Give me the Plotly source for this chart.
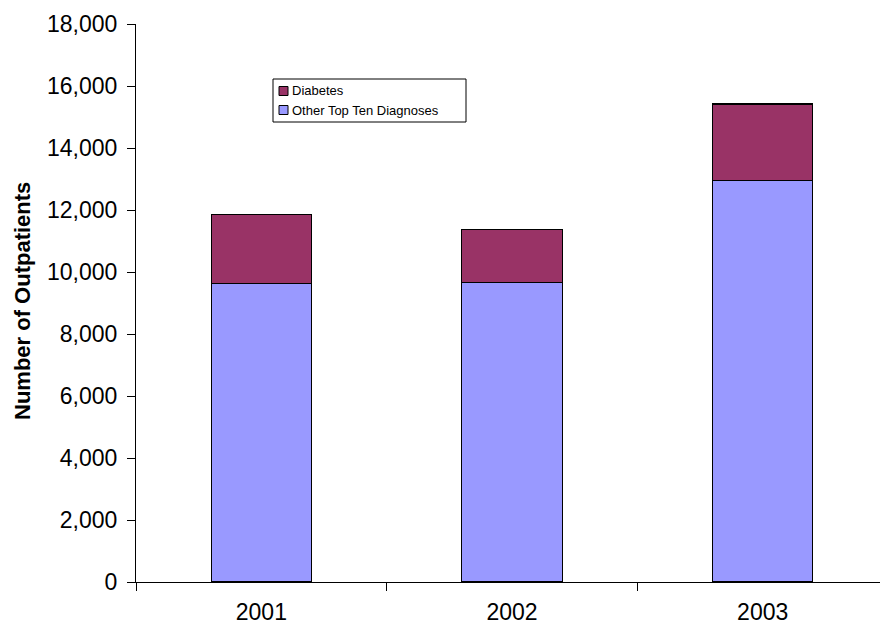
import plotly.graph_objects as go

years = ["2001", "2002", "2003"]
other = [9620, 9655, 12945]
diabetes = [2240, 1722, 2474]
series_names = ["Diabetes", "Other Top Ten Diagnoses"]
series_colors = ["#993366", "#9999FF"]
y_ticks = list(range(0, 18001, 2000))
y_tick_labels = [f"{v:,}" for v in y_ticks]

W, H = 880, 624
L, R, T, B = 136, 0, 24, 42
pw, ph = W - L - R, H - T - B


def px(x):
    return (x - L) / pw


def py(y):
    return (H - B - y) / ph


fig = go.Figure()
fig.add_trace(go.Bar(x=years, y=other, name=series_names[1],
                     marker=dict(color=series_colors[1], line=dict(color="black", width=1.2)),
                     width=0.4, showlegend=False))
fig.add_trace(go.Bar(x=years, y=diabetes, name=series_names[0],
                     marker=dict(color=series_colors[0], line=dict(color="black", width=1.2)),
                     width=0.4, showlegend=False))

fig.update_layout(
    width=W, height=H,
    margin=dict(l=L, r=R, t=T, b=B),
    barmode="stack",
    plot_bgcolor="white", paper_bgcolor="white",
    font=dict(family="Liberation Sans, Arial", size=23, color="black"),
    showlegend=False,
    xaxis=dict(showline=True, linecolor="black", linewidth=1, ticks="outside",
               tickson="boundaries", ticklen=8, tickcolor="black",
               range=[-0.5, 2.468], showgrid=False, ticklabelstandoff=9),
    yaxis=dict(showline=True, linecolor="black", linewidth=1, ticks="outside",
               ticklen=8, tickcolor="black", range=[0, 18000], tickvals=y_ticks,
               ticktext=y_tick_labels, showgrid=False, zeroline=False,
               ticklabelstandoff=5),
)

# y-axis title
fig.add_annotation(text="<b>Number of Outpatients</b>", textangle=-90,
                   xref="paper", yref="paper", x=px(22), y=py(301),
                   xanchor="center", yanchor="middle", showarrow=False,
                   font=dict(size=22))

# legend box
fig.add_shape(type="rect", xref="paper", yref="paper",
              x0=px(273), x1=px(466), y0=py(79), y1=py(122),
              line=dict(color="black", width=1), fillcolor="white", layer="above")
for i, (name, col) in enumerate(zip(series_names, series_colors)):
    cy = 91 + 19 * i
    fig.add_shape(type="rect", xref="paper", yref="paper",
                  x0=px(279), x1=px(288), y0=py(cy - 4.5), y1=py(cy + 4.5),
                  line=dict(color="black", width=1), fillcolor=col, layer="above")
    fig.add_annotation(text=name, xref="paper", yref="paper", x=px(290), y=py(cy),
                       xanchor="left", yanchor="middle", showarrow=False,
                       font=dict(size=13))

fig.write_html("out.html")
